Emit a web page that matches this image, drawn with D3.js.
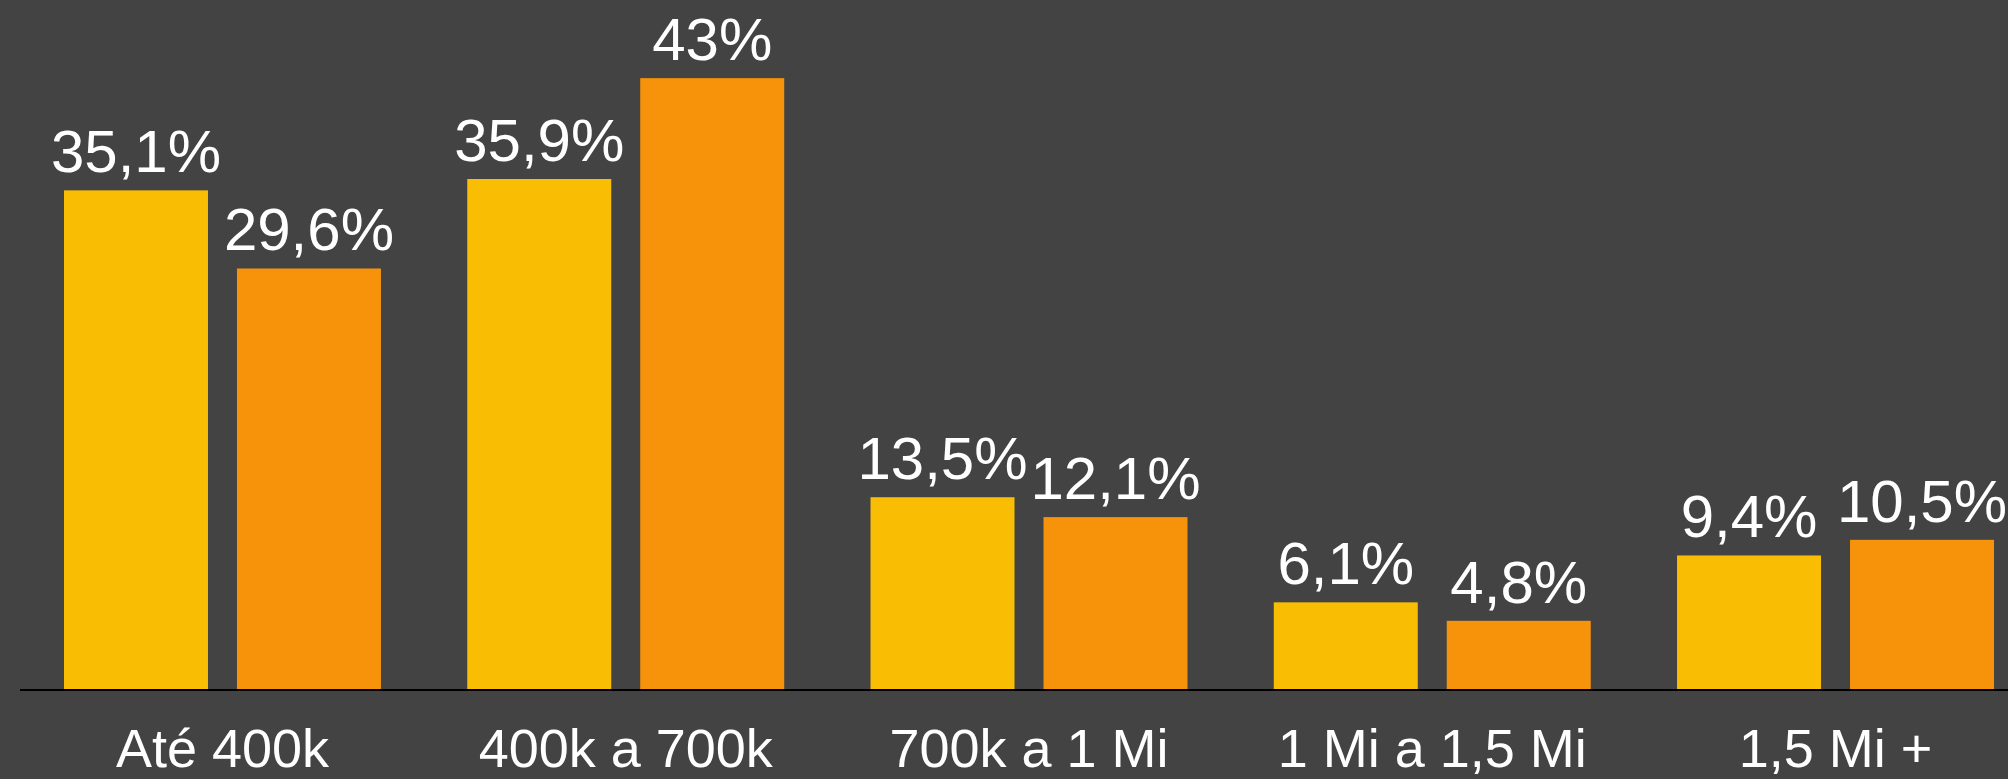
<!DOCTYPE html>
<html>
<head>
<meta charset="utf-8">
<script src="https://cdn.jsdelivr.net/npm/d3@7"></script>
<style>
  html, body { margin: 0; padding: 0; background: #434343; }
  svg { display: block; }
  text { font-family: "Liberation Sans", Helvetica, Arial, sans-serif; fill: #ffffff; }
</style>
</head>
<body>
<script>
const categories = ["Até 400k", "400k a 700k", "700k a 1 Mi", "1 Mi a 1,5 Mi", "1,5 Mi +"];
const seriesNames = ["Série 1", "Série 2"];
const series1 = [35.1, 35.9, 13.5, 6.1, 9.4];
const series2 = [29.6, 43, 12.1, 4.8, 10.5];
const valueLabels1 = ["35,1%", "35,9%", "13,5%", "6,1%", "9,4%"];
const valueLabels2 = ["29,6%", "43%", "12,1%", "4,8%", "10,5%"];
const colors = ["#F9BE03", "#F7930A"];

const W = 2008, H = 779;
const svg = d3.select("body").append("svg").attr("width", W).attr("height", H);
svg.append("rect").attr("width", W).attr("height", H).attr("fill", "#434343");

const x0 = d3.scaleBand().domain(categories).range([21, 2037]).paddingInner(0.214).paddingOuter(0.1066);
const x1 = d3.scaleBand().domain(seriesNames).range([0, x0.bandwidth()]).paddingInner(0.1676).paddingOuter(0);
const y = d3.scaleLinear().domain([0, 48.5]).range([689, 0]);

const data = categories.map((c, i) => ({
  cat: c,
  vals: [
    { s: seriesNames[0], v: series1[i], label: valueLabels1[i], color: colors[0] },
    { s: seriesNames[1], v: series2[i], label: valueLabels2[i], color: colors[1] }
  ]
}));

const g = svg.selectAll("g.grp").data(data).enter().append("g")
  .attr("class", "grp")
  .attr("transform", d => `translate(${x0(d.cat)},0)`);

g.selectAll("rect").data(d => d.vals).enter().append("rect")
  .attr("x", d => x1(d.s))
  .attr("y", d => y(d.v))
  .attr("width", x1.bandwidth())
  .attr("height", d => y(0) - y(d.v))
  .attr("fill", d => d.color);

g.selectAll("text.val").data(d => d.vals).enter().append("text")
  .attr("class", "val")
  .attr("x", d => x1(d.s) + x1.bandwidth() / 2)
  .attr("y", d => y(d.v) - 18)
  .attr("text-anchor", "middle")
  .attr("font-size", 60)
  .text(d => d.label);

// baseline
svg.append("line")
  .attr("x1", 20).attr("x2", W)
  .attr("y1", 690).attr("y2", 690)
  .attr("stroke", "#000").attr("stroke-width", 2);

// category labels
const xAxis = d3.axisBottom(x0).tickSize(0).tickPadding(0);
const ax = svg.append("g").attr("transform", "translate(0,690)").call(xAxis);
ax.select(".domain").remove();
ax.selectAll("text")
  .attr("y", 76.7)
  .attr("dy", null)
  .attr("font-size", 54)
  .attr("font-family", "Liberation Sans, Helvetica, Arial, sans-serif")
  .style("fill", "#ffffff");
</script>
</body>
</html>
